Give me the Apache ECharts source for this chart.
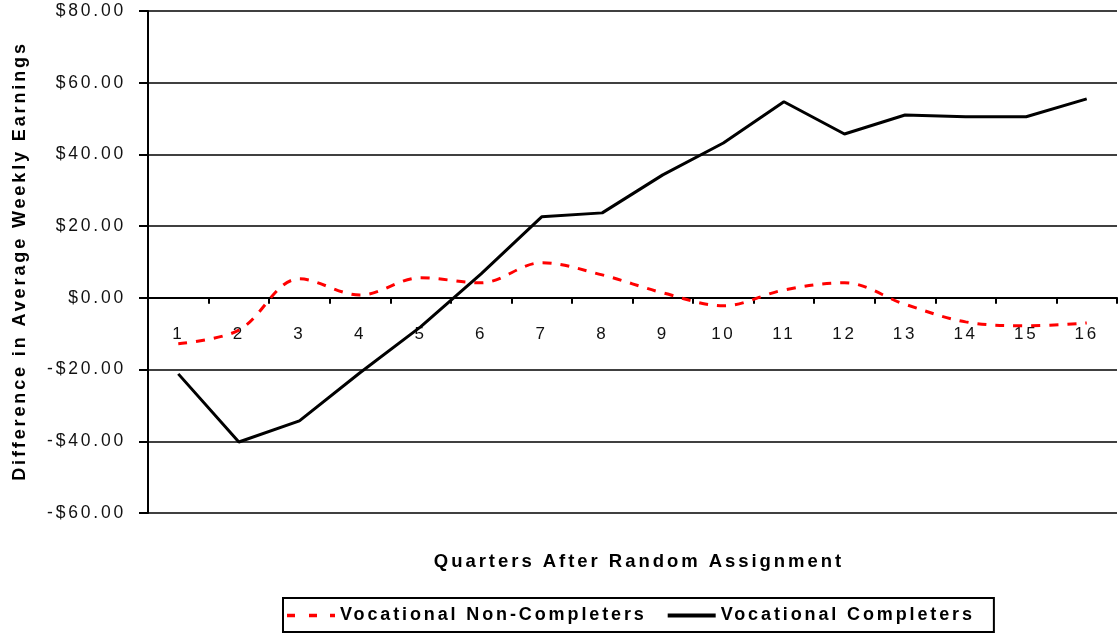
<!DOCTYPE html>
<html><head><meta charset="utf-8">
<script src="https://cdn.jsdelivr.net/npm/echarts@6/dist/echarts.min.js"></script>
<style>html,body{margin:0;padding:0;background:#fff}#c{width:1119px;height:636px}</style>
</head><body><div id="c"></div>
<script>
var quarters = ['1','2','3','4','5','6','7','8','9','10','11','12','13','14','15','16'];
var nonCompleters = [-12.8,-9.0,5.3,0.8,5.6,4.2,9.8,6.4,1.4,-2.2,2.2,4.2,-1.8,-6.7,-7.8,-7.0];
var completers = [-21.2,-40.2,-34.3,-20.9,-8.1,6.7,22.6,23.7,34.3,43.2,54.7,45.7,51.0,50.5,50.5,55.5];
var yTicks = {min:-60, max:80, interval:20};
var seriesNames = ['Vocational Non-Completers','Vocational Completers'];
var xTitle = 'Quarters After Random Assignment';
var yTitle = 'Difference in Average Weekly Earnings';

// widen text spacing like the original (Excel-style spaced lettering)
(function(){
  var P = CanvasRenderingContext2D.prototype;
  if (!('letterSpacing' in P)) return;
  var d = Object.getOwnPropertyDescriptor(P,'font');
  if (!d || !d.set) return;
  Object.defineProperty(P,'font',{configurable:true,
    get:function(){return d.get.call(this);},
    set:function(v){d.set.call(this,v); var m=/([\d.]+)px/.exec(v);
      this.letterSpacing = m ? (parseFloat(m[1])*0.16).toFixed(2)+'px' : '0px';}});
})();

var chart = echarts.init(document.getElementById('c'));
var font = 'Liberation Sans, Arial, sans-serif';
chart.setOption({
  animation:false,
  backgroundColor:'#fff',
  grid:{left:148, right:2, top:11, bottom:123, containLabel:false, outerBoundsMode:'none'},
  xAxis:{
    type:'category', data:quarters, boundaryGap:true,
    axisLine:{onZero:true, lineStyle:{color:'#000', width:2}},
    axisTick:{show:true, inside:false, length:6, lineStyle:{color:'#000', width:2}},
    axisLabel:{fontFamily:font, fontSize:17, color:'#111', margin:-189}
  },
  yAxis:{
    type:'value', min:yTicks.min, max:yTicks.max, interval:yTicks.interval,
    axisLine:{show:true, lineStyle:{color:'#000', width:2}},
    axisTick:{show:true, length:9, lineStyle:{color:'#000', width:2}},
    splitLine:{show:true, lineStyle:{color:'#000', width:1.5}},
    axisLabel:{fontFamily:font, fontSize:17.5, color:'#111', margin:22,
      formatter:function(v){return (v<0?'-$':'$')+Math.abs(v).toFixed(2);}}
  },
  legend:{
    left:283, top:598,
    borderColor:'#000', borderWidth:2, padding:[7,19,6,4],
    itemWidth:48, itemHeight:14, itemGap:21,
    textStyle:{fontFamily:font, fontWeight:'bold', fontSize:18, color:'#000'},
    data:[
      {name:seriesNames[0], icon:'path://M0,0h8v3.5h-8z M22,0h8v3.5h-8z M43,0h5v3.5h-5z'},
      {name:seriesNames[1], icon:'path://M0,0h48v4h-48z'}
    ]
  },
  graphic:[
    {type:'text', x:639, y:562, style:{text:xTitle, align:'center', verticalAlign:'middle',
      font:'bold 18.5px '+font, fill:'#000'}},
    {type:'text', x:20, y:261, rotation:Math.PI/2, style:{text:yTitle, align:'center', verticalAlign:'middle',
      font:'bold 18px '+font, fill:'#000'}}
  ],
  series:[
    {name:seriesNames[0], type:'line', data:nonCompleters, smooth:0.35,
     showSymbol:false, symbol:'none', lineStyle:{color:'#ff0000', width:3, type:[9,9]}, itemStyle:{color:'#ff0000'}, z:3},
    {name:seriesNames[1], type:'line', data:completers, smooth:false,
     showSymbol:false, symbol:'none', lineStyle:{color:'#000', width:3}, itemStyle:{color:'#000'}, z:4}
  ]
});
</script></body></html>
